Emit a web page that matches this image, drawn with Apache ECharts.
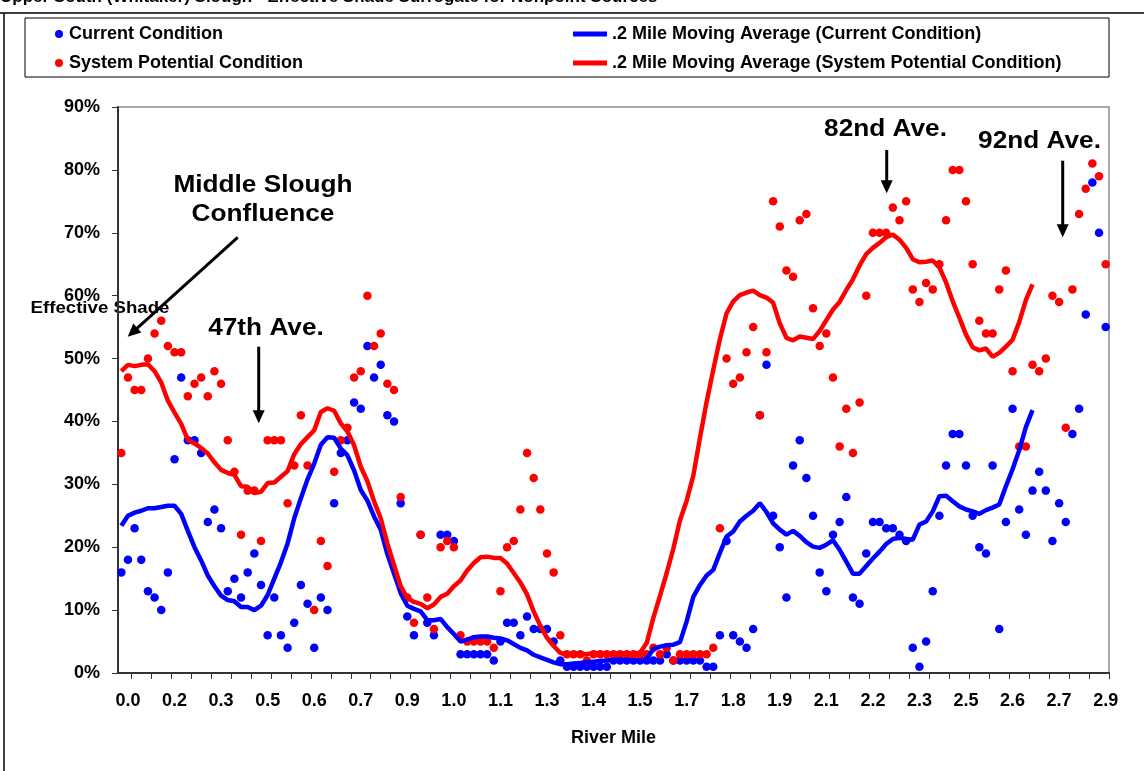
<!DOCTYPE html>
<html>
<head>
<meta charset="utf-8">
<script src="https://cdn.jsdelivr.net/npm/echarts@6/dist/echarts.min.js"></script>
<style>
  html, body { margin: 0; padding: 0; background: #fff; }
  #chart { width: 1144px; height: 771px; }
</style>
</head>
<body>
<div id="chart"></div>
<script>
// ---- data ----
const tickLabels = ['0.0','0.2','0.3','0.5','0.6','0.7','0.9','1.0','1.1','1.3','1.4','1.5','1.7','1.8','1.9','2.1','2.2','2.3','2.5','2.6','2.7','2.9'];

const currentCondition = [
  16,18,23,18,13,12,10,16,34,47,
  37,37,35,24,26,23,13,15,12,16,
  19,14,6,12,6,4,8,14,11,4,
  12,10,27,35,37,43,42,52,47,49,
  41,40,27,9,6,22,8,6,22,22,
  21,3,3,3,3,3,2,5,8,8,
  6,9,7,7,7,5,2,1,1,1,
  1,1,1,1,2,2,2,2,2,2,
  2,2,3,2,2,2,2,2,1,1,
  6,21,6,5,4,7,41,49,25,20,
  12,33,37,31,25,16,13,22,24,28,
  12,11,19,24,24,23,23,22,21,4,
  1,5,13,25,33,38,38,33,25,20,
  19,33,7,24,42,26,22,29,32,29,
  21,27,24,38,42,57,78,70,55
];

const systemPotential = [
  35,47,45,45,50,54,56,52,51,51,
  44,46,47,44,48,46,37,32,22,29,
  29,21,37,37,37,27,33,41,33,10,
  21,17,32,37,39,47,48,60,52,54,
  46,45,28,12,8,22,12,7,20,21,
  20,6,5,5,5,5,4,13,20,21,
  26,35,31,26,19,16,6,3,3,3,
  2,3,3,3,3,3,3,3,3,3,
  4,3,4,2,3,3,3,3,3,4,
  23,50,46,47,51,55,41,51,75,71,
  64,63,72,73,58,52,54,47,36,42,
  35,43,60,70,70,70,74,72,75,61,
  59,62,61,65,72,80,80,75,65,56,
  54,54,61,64,48,36,36,49,48,50,
  60,59,39,61,73,77,81,79,65
];

const movingAvgCurrent = [
  23.4,25.0,25.5,25.8,26.2,26.2,26.4,26.6,26.6,25.3,
  22.6,20.0,17.9,15.5,13.8,12.3,11.6,11.4,10.5,10.5,
  10.0,10.7,12.4,15.0,17.6,20.6,24.6,27.8,30.8,33.3,
  36.3,37.5,37.4,35.7,34.6,32.2,29.1,27.4,24.9,22.8,
  18.9,15.8,12.7,10.7,10.2,9.8,8.4,8.4,8.6,7.3,
  6.2,5.0,5.3,5.7,5.8,5.8,5.6,5.5,5.2,4.6,
  4.0,3.6,2.9,2.5,2.1,1.7,1.4,1.4,1.5,1.6,
  1.7,1.8,1.9,2.0,2.1,2.1,2.1,2.0,1.9,2.3,
  3.8,4.2,4.4,4.5,4.9,8.2,12.1,14.0,15.5,16.4,
  19.1,21.7,22.5,24.1,25.0,25.8,27.0,25.6,23.8,22.8,
  22.0,22.6,21.8,20.8,20.1,19.9,20.4,21.1,19.6,17.7,
  15.8,15.8,17.0,18.2,19.3,20.5,21.3,21.5,21.3,21.2,
  23.6,24.1,25.7,28.1,28.2,27.3,26.5,26.0,25.7,25.3,
  25.9,26.3,26.8,29.7,32.4,35.4,39.1,41.8
];

const movingAvgPotential = [
  48.0,49.0,48.8,49.0,49.1,48.0,46.2,43.3,41.4,39.6,
  37.1,36.5,35.8,34.9,33.5,32.3,31.8,31.5,29.7,29.6,
  28.6,28.8,30.2,30.3,31.2,32.1,34.8,36.4,37.5,38.6,
  41.5,42.1,41.7,39.7,38.4,36.2,32.8,30.5,27.3,24.6,
  20.6,17.2,13.8,11.9,11.3,11.0,10.3,10.9,12.1,12.6,
  13.8,14.7,16.3,17.5,18.4,18.5,18.3,18.3,17.4,15.9,
  14.4,12.5,9.8,7.5,5.6,4.3,3.2,2.9,2.9,3.0,
  3.0,3.2,3.1,3.1,3.1,3.1,3.1,3.1,3.2,4.8,
  8.8,12.3,15.9,19.8,24.3,27.4,31.4,37.4,43.1,48.2,
  53.1,57.2,59.1,60.1,60.5,60.8,60.1,59.7,58.9,55.6,
  53.3,52.9,53.5,53.3,53.1,54.4,56.1,57.8,59.0,60.9,
  62.6,64.8,66.6,67.6,68.4,69.3,69.7,68.9,67.6,65.8,
  65.3,65.4,65.6,64.5,62.1,59.1,56.5,53.8,51.8,51.3,
  51.6,50.3,50.9,51.9,53.0,55.8,59.3,61.8
];

// category axis: one slot per sampled point, labels every 7th slot starting at slot 1
const LABEL_STEP = 7, LABEL_OFFSET = 1, TICK_STEP = 3, TICK_OFFSET = 2;
const categories = currentCondition.map((_, i) =>
  (i - LABEL_OFFSET) % LABEL_STEP === 0 && i >= LABEL_OFFSET ? tickLabels[(i - LABEL_OFFSET) / LABEL_STEP] : 'pt' + i);

const FONT = '"Liberation Sans", Arial, sans-serif';
const chart = echarts.init(document.getElementById('chart'), null, { renderer: 'canvas' });

function arrowDown(x, y1, y2) {
  return [
    { type: 'line', shape: { x1: x, y1: y1, x2: x, y2: y2 - 11 }, style: { stroke: '#000', lineWidth: 3 } },
    { type: 'polygon', shape: { points: [[x, y2], [x - 6, y2 - 13], [x + 6, y2 - 13]] }, style: { fill: '#000' } }
  ];
}
function arrowDiag(x1, y1, x2, y2) {
  const dx = x2 - x1, dy = y2 - y1, L = Math.hypot(dx, dy);
  const ux = dx / L, uy = dy / L, nx = -uy, ny = ux;
  const bx = x2 - 13 * ux, by = y2 - 13 * uy;
  return [
    { type: 'line', shape: { x1: x1, y1: y1, x2: bx + 2 * ux, y2: by + 2 * uy }, style: { stroke: '#000', lineWidth: 3 } },
    { type: 'polygon', shape: { points: [[x2, y2], [bx + 6 * nx, by + 6 * ny], [bx - 6 * nx, by - 6 * ny]] }, style: { fill: '#000' } }
  ];
}
function label(text, x, y, size, sx) {
  return { type: 'text', x: x, y: y, scaleX: sx || 1,
    style: { text: text, fill: '#000', font: 'bold ' + size + 'px ' + FONT, align: 'center', verticalAlign: 'middle' } };
}

const names = ['Current Condition', 'System Potential Condition',
  '.2 Mile Moving Average (Current Condition)', '.2 Mile Moving Average (System Potential Condition)'];

const legendText = { fontSize: 18, fontWeight: 'bold', fontFamily: FONT, color: '#000' };

const option = {
  backgroundColor: '#fff',
  animation: false,
  textStyle: { fontFamily: FONT },
  legend: [
    { data: names.slice(0, 2), orient: 'vertical', left: 55, top: 25, padding: 0, itemWidth: 10, itemHeight: 8, itemGap: 11,
      itemStyle: { opacity: 1 }, icon: 'circle', textStyle: legendText, selectedMode: false },
    { data: names.slice(2), orient: 'vertical', left: 573, top: 25, padding: 0, itemWidth: 34, itemHeight: 5, itemGap: 11,
      icon: 'rect', textStyle: legendText, selectedMode: false }
  ],
  grid: { left: 118, right: 35, top: 107, bottom: 98, show: true, borderColor: '#8c8c8c', borderWidth: 1.5, backgroundColor: 'transparent' },
  xAxis: {
    type: 'category', data: categories, boundaryGap: true,
    name: 'River Mile', nameLocation: 'middle', nameGap: 56,
    nameTextStyle: { fontSize: 18, fontWeight: 'bold', color: '#000', fontFamily: FONT },
    axisLine: { show: true, lineStyle: { color: '#333', width: 2 } },
    axisTick: { show: true, length: 6, lineStyle: { color: '#333', width: 1 },
      interval: (i) => i >= TICK_OFFSET && (i - TICK_OFFSET) % TICK_STEP === 0 },
    axisLabel: { interval: (i) => i >= LABEL_OFFSET && (i - LABEL_OFFSET) % LABEL_STEP === 0,
      margin: 19, fontSize: 18, fontWeight: 'bold', color: '#000', fontFamily: FONT },
    splitLine: { show: false }
  },
  yAxis: {
    type: 'value', min: 0, max: 90, interval: 10,
    axisLine: { show: true, lineStyle: { color: '#333', width: 2 } },
    axisTick: { show: true, length: 6, lineStyle: { color: '#333', width: 1 } },
    axisLabel: { formatter: '{value}%', margin: 18, fontSize: 18, fontWeight: 'bold', color: '#000', fontFamily: FONT },
    splitLine: { show: false }
  },
  series: [
    { name: names[0], type: 'scatter', data: currentCondition, symbol: 'circle', symbolSize: 8.5,
      itemStyle: { color: '#0000ff', opacity: 1 }, z: 2 },
    { name: names[1], type: 'scatter', data: systemPotential, symbol: 'circle', symbolSize: 8.5,
      itemStyle: { color: '#ff0000', opacity: 1 }, z: 3 },
    { name: names[2], type: 'line', data: movingAvgCurrent, showSymbol: false, symbol: 'none',
      lineStyle: { color: '#0000ff', width: 4.5 }, itemStyle: { color: '#0000ff' }, z: 4 },
    { name: names[3], type: 'line', data: movingAvgPotential, showSymbol: false, symbol: 'none',
      lineStyle: { color: '#ff0000', width: 4.5 }, itemStyle: { color: '#ff0000' }, z: 5 }
  ],
  graphic: [
    // outer frame & cut-off title
    { type: 'text', x: 0, y: 6, style: { text: 'Upper South (Whitaker) Slough - Effective Shade Surrogate for Nonpoint Sources',
      fill: '#000', font: 'bold 17px ' + FONT, align: 'left', verticalAlign: 'bottom' } },
    { type: 'line', shape: { x1: 0, y1: 13, x2: 1144, y2: 13 }, style: { stroke: '#000', lineWidth: 1.5 } },
    { type: 'line', shape: { x1: 4, y1: 13, x2: 4, y2: 771 }, style: { stroke: '#000', lineWidth: 1.5 } },
    // legend box
    { type: 'rect', shape: { x: 25, y: 18, width: 1084, height: 59 }, style: { fill: 'none', stroke: '#000', lineWidth: 1 }, z: -1 },
    // y axis title
    label('Effective Shade', 100, 308, 16.5, 1.13),
    // annotations
    label('Middle Slough', 263, 186, 23, 1.14),
    label('Confluence', 263, 215, 23, 1.14),
    ...arrowDiag(237.7, 237.3, 127.7, 336.7),
    label('47th Ave.', 266, 329, 23, 1.14),
    ...arrowDown(258.7, 346.7, 423.3),
    label('82nd Ave.', 885.5, 130, 23, 1.14),
    ...arrowDown(886.7, 150, 193.3),
    label('92nd Ave.', 1039.5, 142, 23, 1.14),
    ...arrowDown(1062.7, 160.7, 237.3)
  ]
};
chart.setOption(option);
</script>
</body>
</html>
